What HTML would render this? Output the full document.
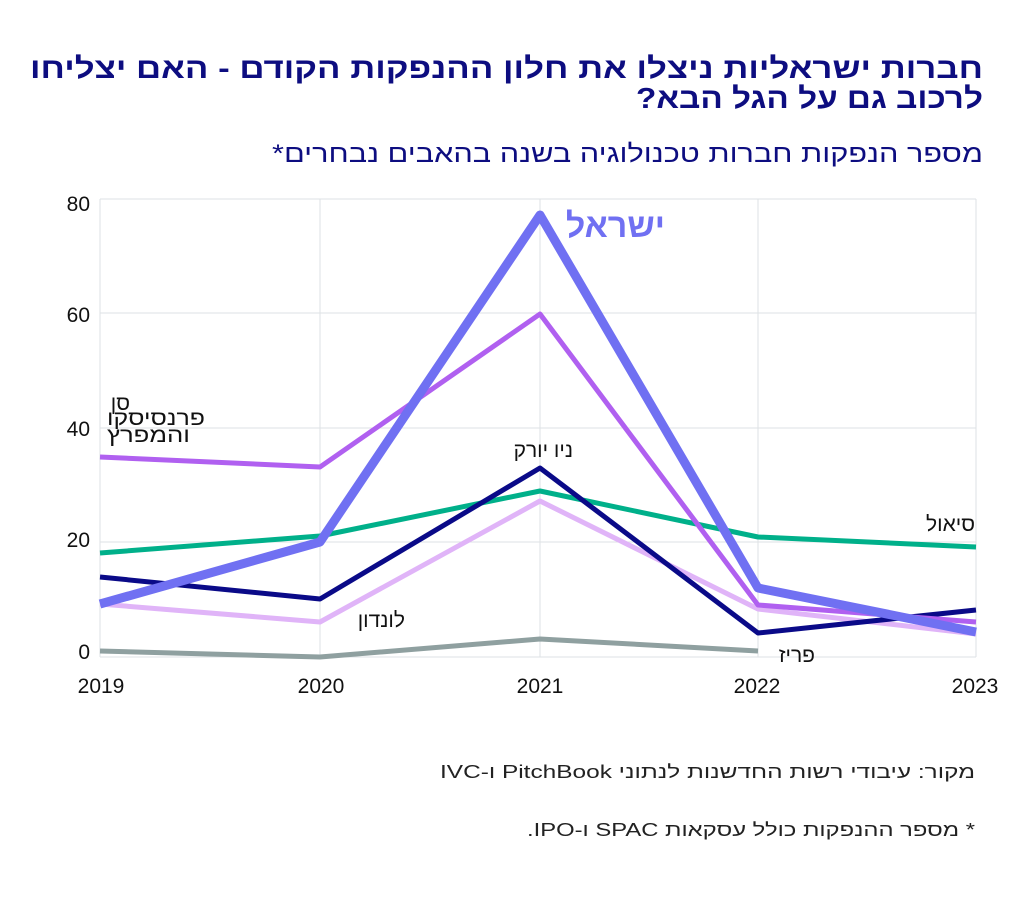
<!DOCTYPE html>
<html><head><meta charset="utf-8"><style>
body{margin:0;background:#fff;}
svg{display:block;font-family:"Liberation Sans","Noto Sans CJK JP",sans-serif;}
</style></head><body>
<svg width="1024" height="906" viewBox="0 0 1024 906">
<rect width="1024" height="906" fill="#fff"/>
<g direction="rtl" text-anchor="start">
<text x="983" y="78" font-size="29" font-weight="bold" fill="#0d0d80" textLength="953" lengthAdjust="spacingAndGlyphs">חברות ישראליות ניצלו את חלון ההנפקות הקודם - האם יצליחו</text>
<text x="983" y="108" font-size="29" font-weight="bold" fill="#0d0d80" textLength="347" lengthAdjust="spacingAndGlyphs">לרכוב גם על הגל הבא?</text>
<text x="983" y="162" font-size="25" fill="#0d0d80" textLength="711" lengthAdjust="spacingAndGlyphs">מספר הנפקות חברות טכנולוגיה בשנה בהאבים נבחרים*</text>
<text x="975" y="778" font-size="18" fill="#222" textLength="535" lengthAdjust="spacingAndGlyphs">מקור: עיבודי רשות החדשנות לנתוני PitchBook ו-IVC</text>
<text x="975" y="836" font-size="18" fill="#222" textLength="448" lengthAdjust="spacingAndGlyphs">* מספר ההנפקות כולל עסקאות SPAC ו-IPO.</text>
</g>
<g stroke="#dde2e4" stroke-width="1">
<line x1="100" y1="199" x2="976" y2="199"/><line x1="100" y1="313" x2="976" y2="313"/>
<line x1="100" y1="428" x2="976" y2="428"/><line x1="100" y1="542" x2="976" y2="542"/>
<line x1="100" y1="657" x2="976" y2="657"/>
<line x1="100" y1="199" x2="100" y2="657"/><line x1="320" y1="199" x2="320" y2="657"/>
<line x1="540" y1="199" x2="540" y2="657"/><line x1="758" y1="199" x2="758" y2="657"/>
<line x1="976" y1="199" x2="976" y2="657"/>
</g>
<g font-size="21" fill="#111" text-anchor="end">
<text x="90" y="211">80</text><text x="90" y="322">60</text><text x="90" y="436">40</text><text x="90" y="547">20</text><text x="90" y="659">0</text>
</g>
<g font-size="21" fill="#111" text-anchor="middle">
<text x="101" y="693">2019</text><text x="321" y="693">2020</text><text x="540" y="693">2021</text><text x="757" y="693">2022</text><text x="975" y="693">2023</text>
</g>
<g fill="none" stroke-linejoin="round">
<polyline points="100,651 320,657 540,639 758,651" stroke="#8fa0a0" stroke-width="5"/>
<polyline points="100,604 320,622 540,501 758,609 976,634" stroke="#e0b4f8" stroke-width="5"/>
<polyline points="100,553 320,536 540,491 758,537 976,547" stroke="#00b08a" stroke-width="5"/>
<polyline points="100,577 320,599 540,468 758,633 976,610" stroke="#0a0a88" stroke-width="5"/>
<polyline points="100,457 320,467 540,314 758,605 976,622" stroke="#b060f0" stroke-width="5"/>
<polyline points="100,604 320,542 540,215 758,588 976,632" stroke="#7070f2" stroke-width="9"/>
</g>
<g direction="rtl" text-anchor="start" font-size="21" fill="#111">
<text x="130" y="410">סן</text>
<text x="205" y="425" textLength="98" lengthAdjust="spacingAndGlyphs">פרנסיסקו</text>
<text x="190" y="442" textLength="83" lengthAdjust="spacingAndGlyphs">והמפרץ</text>
<text x="573" y="457">ניו יורק</text>
<text x="975" y="531">סיאול</text>
<text x="405" y="627">לונדון</text>
<text x="815" y="662">פריז</text>
<text x="665" y="237" font-size="34" font-weight="bold" fill="#7070f2">ישראל</text>
</g>
</svg>
</body></html>
